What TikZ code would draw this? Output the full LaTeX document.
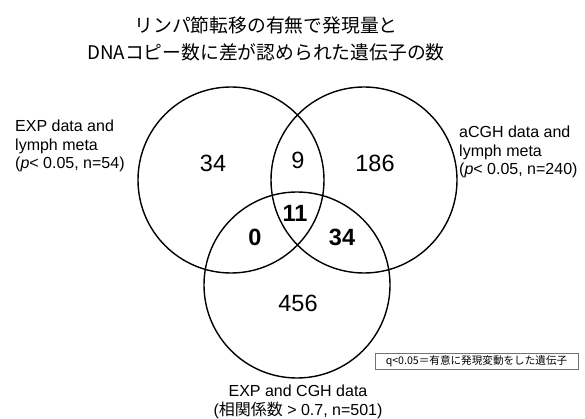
\documentclass[tikz,border=0pt]{standalone}
\usepackage{fontspec}
\setmainfont{Liberation Sans}
\newfontfamily\jp{Noto Sans CJK JP}
\begin{document}
\begin{tikzpicture}[x=1pt,y=-1pt,
  venn/.style={draw=black,line width=1.4pt},
  num/.style={font=\fontsize{23.5}{26}\selectfont,inner sep=0pt},
  bnum/.style={font=\fontsize{23.5}{26}\selectfont\bfseries,inner sep=0pt},
  lbl/.style={font=\fontsize{16}{18.5}\selectfont,align=left,inner sep=0pt}]
\useasboundingbox[fill=white] (0,0) rectangle (585,419);
\node[font=\jp\fontsize{18.8}{27.5}\selectfont,align=center,inner sep=0pt] (title) at (266,39)
  {リンパ節転移の有無で発現量と\\DNAコピー数に差が認められた遺伝子の数};
\draw[venn] (231,180) circle[radius=93];
\draw[venn] (364,180) circle[radius=93];
\draw[venn] (297,285) circle[radius=93];
\node[num] (n1) at (213,163) {34};
\node[num] (n2) at (298,160) {9};
\node[num] (n3) at (375,163) {186};
\node[bnum] (n4) at (295,213) {11};
\node[bnum] (n5) at (255,237) {0};
\node[bnum] (n6) at (342,237) {34};
\node[num] (n7) at (298,303) {456};
\node[lbl,anchor=north west] (l1) at (15,120) {EXP data and\\lymph meta\\(\textit{p}< 0.05, n=54)};
\node[lbl,anchor=north west] (l2) at (459,126) {aCGH data and\\lymph meta\\(\textit{p}< 0.05, n=240)};
\node[lbl,align=center,anchor=north] (l3) at (298,385) {EXP and CGH data\\({\jp\smash{相関係数}} > 0.7, n=501)};
\node[draw=black!55,line width=0.6pt,minimum width=203pt,minimum height=16pt,inner sep=0pt,font=\jp\fontsize{10.6}{12}\selectfont] (box) at (476.5,361)
  {q<0.05＝有意に発現変動をした遺伝子};
\end{tikzpicture}
\end{document}
